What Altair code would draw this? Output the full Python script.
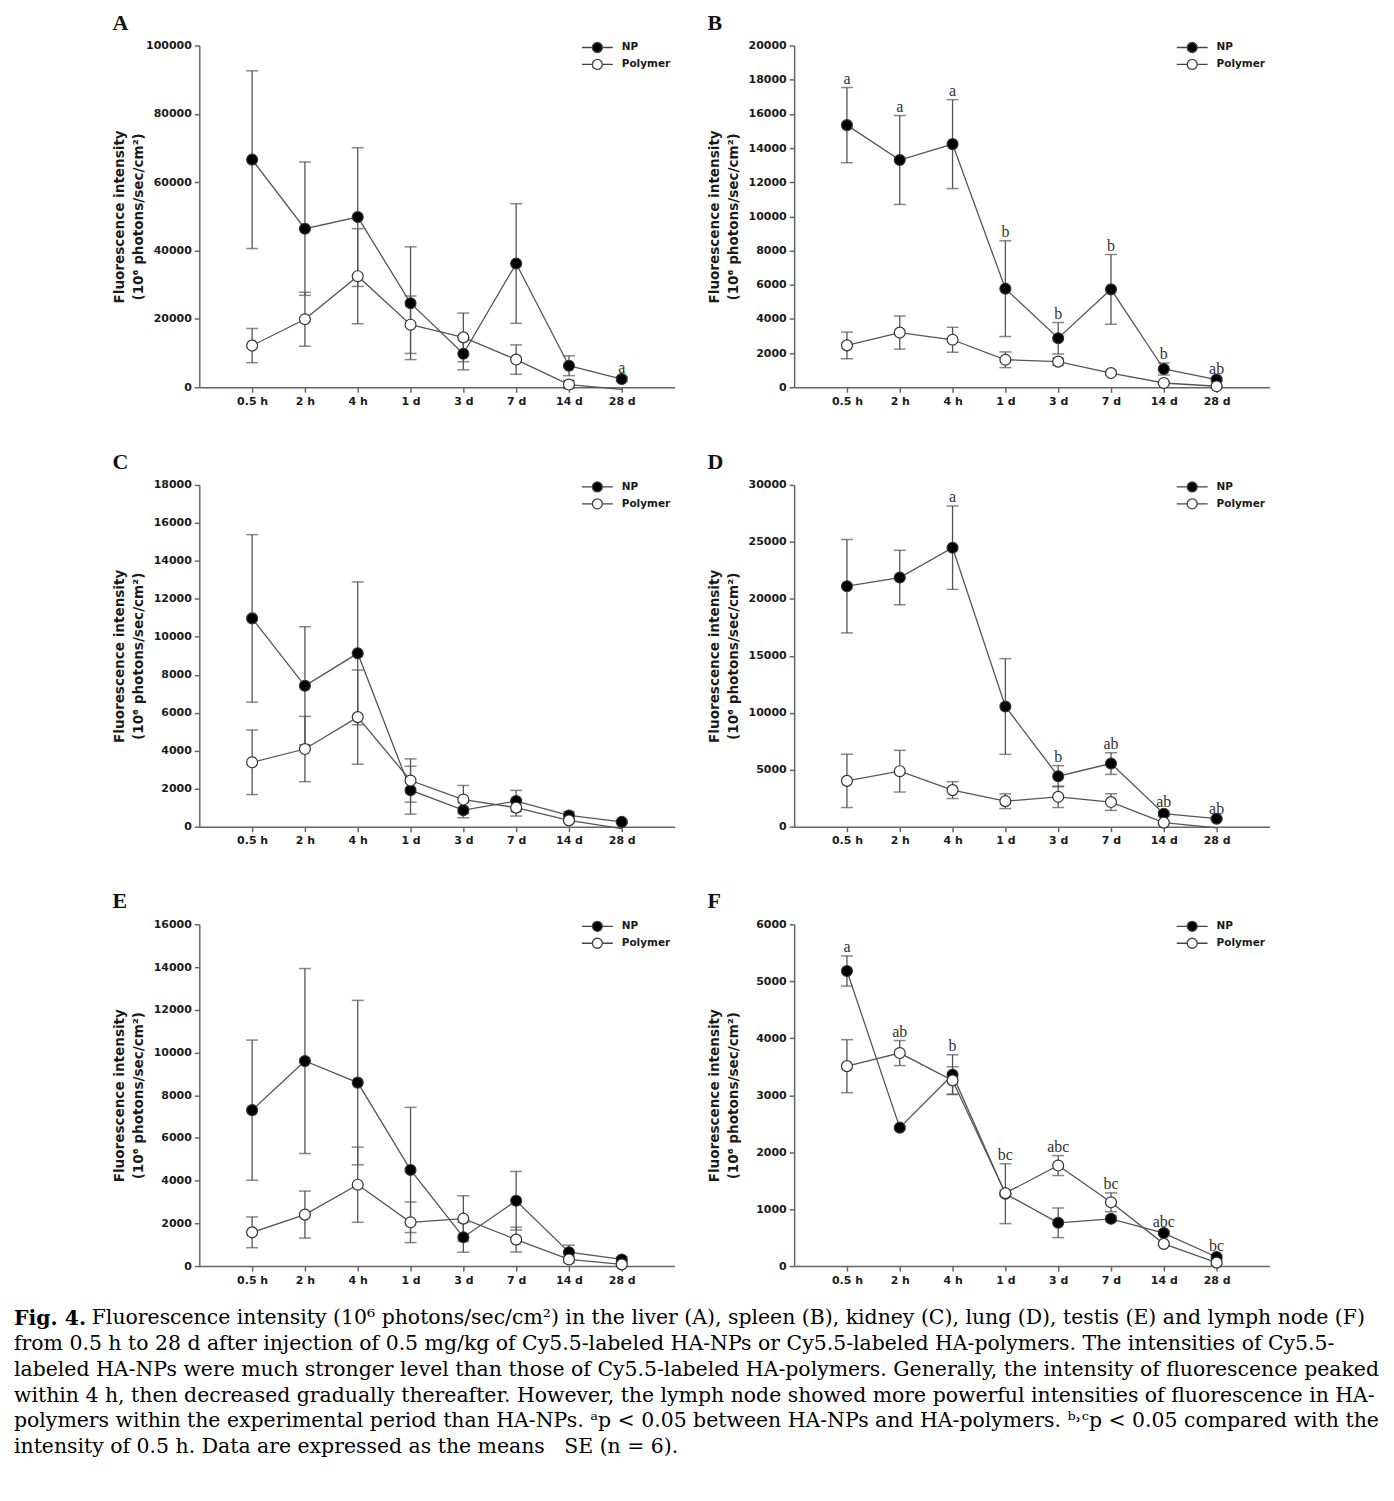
import altair as alt
import pandas as pd

# ---------------- data ----------------
times = ["0.5 h", "2 h", "4 h", "1 d", "3 d", "7 d", "14 d", "28 d"]
series_names = ["NP", "Polymer"]
y_title = ["Fluorescence intensity", "(10\u2076 photons/sec/cm\u00b2)"]

panel_letters = ["A", "B", "C", "D", "E", "F"]
y_max = [100000, 20000, 18000, 30000, 16000, 6000]
y_step = [20000, 2000, 2000, 5000, 2000, 1000]

# A: liver
A_np = [66600, 46400, 49800, 24600, 9800, 36200, 6300, 2400]
A_np_se = [26000, 19500, 20300, 16500, 4700, 17500, 2900, 700]
A_poly = [12200, 19900, 32500, 18300, 14600, 8100, 800, -600]
A_poly_se = [5000, 7900, 13900, 8400, 7100, 4300, 1200, 0]
A_ann = ["", "", "", "", "", "", "", "a"]
A_ann_on = ["NP"] * 8

# B: spleen
B_np = [15340, 13300, 14230, 5770, 2870, 5730, 1070, 450]
B_np_se = [2200, 2600, 2600, 2800, 920, 2040, 350, 100]
B_poly = [2450, 3200, 2780, 1610, 1500, 830, 250, 60]
B_poly_se = [780, 970, 730, 460, 200, 100, 80, 30]
B_ann = ["a", "a", "a", "b", "b", "b", "b", "ab"]
B_ann_on = ["NP"] * 8

# C: kidney
C_np = [10970, 7420, 9130, 1920, 870, 1350, 590, 250]
C_np_se = [4410, 3110, 3760, 1260, 400, 560, 200, 80]
C_poly = [3390, 4090, 5770, 2430, 1430, 1000, 330, -100]
C_poly_se = [1700, 1720, 2480, 1140, 740, 440, 100, 0]
C_ann = [""] * 8
C_ann_on = ["NP"] * 8

# D: lung
D_np = [21110, 21870, 24490, 10550, 4430, 5540, 1140, 700]
D_np_se = [4100, 2390, 3660, 4200, 930, 950, 200, 100]
D_poly = [4020, 4870, 3210, 2240, 2620, 2160, 350, -100]
D_poly_se = [2340, 1830, 740, 650, 940, 730, 100, 0]
D_ann = ["", "", "a", "", "b", "ab", "ab", "ab"]
D_ann_on = ["NP"] * 8

# E: testis
E_np = [7300, 9600, 8590, 4500, 1350, 3060, 650, 310]
E_np_se = [3280, 4330, 3850, 2930, 700, 1370, 330, 120]
E_poly = [1580, 2410, 3810, 2050, 2220, 1240, 310, 80]
E_poly_se = [720, 1100, 1760, 950, 1070, 580, 150, 50]
E_ann = [""] * 8
E_ann_on = ["NP"] * 8

# F: lymph node
F_np = [5180, 2430, 3360, 1270, 760, 830, 580, 160]
F_np_se = [265, 30, 350, 525, 260, 50, 30, 30]
F_poly = [3510, 3740, 3260, 1280, 1765, 1120, 390, 60]
F_poly_se = [465, 220, 240, 50, 175, 165, 30, 30]
F_ann = ["a", "ab", "b", "bc", "abc", "bc", "abc", "bc"]
F_ann_on = ["NP", "Polymer", "NP", "NP", "Polymer", "Polymer", "NP", "NP"]

caption_bold = "Fig. 4."
caption_first = "Fluorescence intensity (10\u2076 photons/sec/cm\u00b2) in the liver (A), spleen (B), kidney (C), lung (D), testis (E) and lymph node (F)"
caption_rest = [
    "from 0.5 h to 28 d after injection of 0.5 mg/kg of Cy5.5-labeled HA-NPs or Cy5.5-labeled HA-polymers. The intensities of Cy5.5-",
    "labeled HA-NPs were much stronger level than those of Cy5.5-labeled HA-polymers. Generally, the intensity of fluorescence peaked",
    "within 4 h, then decreased gradually thereafter. However, the lymph node showed more powerful intensities of fluorescence in HA-",
    "polymers within the experimental period than HA-NPs. \u1d43p < 0.05 between HA-NPs and HA-polymers. \u1d47\u02d2\u1d9cp < 0.05 compared with the",
    "intensity of 0.5 h. Data are expressed as the means\u00a0\u00a0\u00a0SE (n = 6).",
]

panels_data = [
    (A_np, A_np_se, A_poly, A_poly_se, A_ann, A_ann_on),
    (B_np, B_np_se, B_poly, B_poly_se, B_ann, B_ann_on),
    (C_np, C_np_se, C_poly, C_poly_se, C_ann, C_ann_on),
    (D_np, D_np_se, D_poly, D_poly_se, D_ann, D_ann_on),
    (E_np, E_np_se, E_poly, E_poly_se, E_ann, E_ann_on),
    (F_np, F_np_se, F_poly, F_poly_se, F_ann, F_ann_on),
]

# ---------------- styling ----------------
SANS = "DejaVu Sans"
SERIF = "Liberation Serif"
CAP_FONT = "DejaVu Serif"
GREY = "#555555"
PW, PH = 477, 343

legend_symbol = "M-3.1,0L-1,0M1,0L3.1,0M1,0A1,1,0,1,1,-1,0A1,1,0,1,1,1,0Z"


def make_panel(letter, ymax, ystep, data):
    np_m, np_se, po_m, po_se, ann, ann_on = data
    rows = []
    for s, means, ses in (("NP", np_m, np_se), ("Polymer", po_m, po_se)):
        for t, m, e in zip(times, means, ses):
            rows.append(dict(time=t, series=s, mean=m, lo=m - e, hi=m + e))
    df = pd.DataFrame(rows)
    arows = []
    for i, (lab, on) in enumerate(zip(ann, ann_on)):
        if lab:
            if on == "NP":
                hi = np_m[i] + np_se[i]
            else:
                hi = po_m[i] + po_se[i]
            arows.append(dict(time=times[i], label=lab, hi=hi))
    adf = pd.DataFrame(arows, columns=["time", "label", "hi"])

    ticks = list(range(0, ymax + 1, ystep))
    yscale = alt.Scale(domain=[0, ymax], nice=False, zero=True)
    yaxis = alt.Axis(values=ticks, format="d", title=y_title, titleX=-73,
                     titleFont=SANS, titleFontSize=13.6, titleFontWeight="bold",
                     titleColor="#1a1a1a", titleLineHeight=19)
    xenc = alt.X("time:N", sort=times,
                 scale=alt.Scale(type="point", padding=1),
                 axis=alt.Axis(title=None, labelAngle=0))

    def Y(field):
        return alt.Y(field, type="quantitative", scale=yscale, axis=yaxis)

    base = alt.Chart(df)
    valid = base.transform_filter("datum.mean >= 0")
    rule = valid.mark_rule(color=GREY, strokeWidth=1.3).encode(
        x=xenc, y=Y("lo"), y2="hi:Q", detail="series:N")
    cap_hi = valid.mark_tick(color=GREY, size=12, thickness=1.5).encode(
        x=xenc, y=Y("hi"), detail="series:N")
    cap_lo = valid.mark_tick(color=GREY, size=12, thickness=1.5).encode(
        x=xenc, y=Y("lo"), detail="series:N")
    line = base.mark_line(color=GREY, strokeWidth=1.3).encode(
        x=xenc, y=Y("mean"), detail="series:N")
    pts = valid.mark_point(filled=True, size=120, stroke="#333333",
                           strokeWidth=1.2, opacity=1).encode(
        x=xenc, y=Y("mean"),
        fill=alt.Fill("series:N",
                      scale=alt.Scale(domain=series_names, range=["#000000", "#ffffff"]),
                      legend=alt.Legend(title=None, orient="none", legendX=393.5, legendY=-4,
                                        symbolType=legend_symbol, symbolSize=100,
                                        symbolStrokeColor="#444444", symbolStrokeWidth=1.3,
                                        labelFont=SANS, labelFontWeight="bold",
                                        labelFontSize=10.5, labelColor="#1a1a1a",
                                        labelOffset=18.5, rowPadding=1, padding=0)))
    layers = [rule, cap_hi, cap_lo, line, pts]
    if len(adf):
        txt = alt.Chart(adf).mark_text(font=SERIF, fontSize=16, color="#333333",
                                       baseline="alphabetic", dy=-4).encode(
            x=xenc, y=Y("hi"), text="label:N")
        layers.append(txt)
    return alt.layer(*layers).properties(
        width=PW, height=PH,
        title=alt.TitleParams(text=letter, anchor="start", frame="bounds",
                              font=SERIF, fontSize=22, fontWeight="bold",
                              color="#111111", offset=5))


panels = [make_panel(l, m, s, d) for l, m, s, d in
          zip(panel_letters, y_max, y_step, panels_data)]

rows = []
for i in range(0, 6, 2):
    rows.append(alt.hconcat(panels[i], panels[i + 1], spacing=33)
                .resolve_scale(fill="independent"))

grid = alt.vconcat(*rows, spacing=45).resolve_scale(fill="independent").properties(
    title=alt.TitleParams(text=caption_bold, orient="bottom", anchor="start",
                          frame="bounds", dx=-99, offset=24,
                          font=CAP_FONT, fontSize=20.5, fontWeight="bold",
                          color="#000000"))

mid = alt.vconcat(grid).resolve_scale(fill="independent").properties(
    title=alt.TitleParams(text=caption_first, orient="bottom", anchor="start",
                          frame="bounds", dx=78, offset=0, dy=-21,
                          font=CAP_FONT, fontSize=20.5, fontWeight="normal",
                          color="#000000"))

chart = alt.vconcat(mid).resolve_scale(fill="independent").properties(
    padding={"left": 6, "top": 1, "right": 5, "bottom": 5},
    title=alt.TitleParams(text=caption_rest, orient="bottom", anchor="start",
                          frame="bounds", offset=5,
                          font=CAP_FONT, fontSize=20.5, fontWeight="normal",
                          color="#000000", lineHeight=25.8)
).configure_view(strokeWidth=0).configure_axis(
    grid=False, domainColor="#666666", domainWidth=1.5, tickColor="#666666",
    tickWidth=1.5, tickSize=5, labelFont=SANS, labelFontWeight="bold",
    labelFontSize=11, labelColor="#1a1a1a", labelPadding=3
)

chart.save("out.html", embed_options={"renderer": "svg", "actions": False})
